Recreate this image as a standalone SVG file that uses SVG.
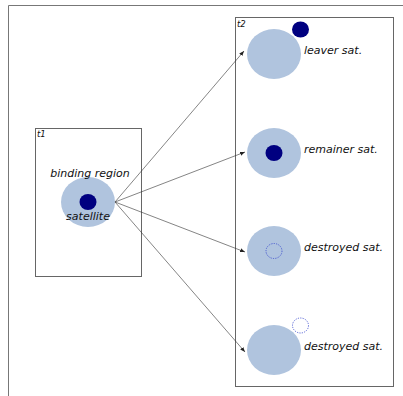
<svg xmlns="http://www.w3.org/2000/svg" width="403" height="396" viewBox="0 0 403 396">
<style>
.frame{fill:none;stroke:#777;stroke-width:1}
.box{fill:none;stroke:#666;stroke-width:1}
.big{fill:#b0c4de}
.dot{fill:#000080}
.gone{fill:none;stroke:#3344cc;stroke-width:0.8;stroke-dasharray:1.2 1.2}
.lbl{font-family:"DejaVu Sans",sans-serif;font-style:italic;font-size:11px;fill:#111}
.tag{font-family:"DejaVu Sans",sans-serif;font-style:italic;font-size:8.5px;fill:#111}
.conn{stroke:#333;stroke-width:0.6;fill:none;marker-end:url(#ah)}
</style>
<defs>
<marker id="ah" viewBox="0 0 10 10" refX="10" refY="5" markerWidth="5" markerHeight="5" orient="auto" markerUnits="userSpaceOnUse">
<path d="M0,1 L10,5 L0,9 z" fill="#222"/>
</marker>
</defs>
<rect width="403" height="396" fill="#fff"/>
<path class="frame" d="M8.5,396 V5.5 H403"/>
<g id="t1">
<rect class="box" x="35.5" y="128.5" width="106" height="148"/>
<text class="tag" x="37" y="137">t1</text>
<ellipse class="big" cx="88" cy="202" rx="27" ry="25"/>
<ellipse class="dot" cx="88" cy="202" rx="8.5" ry="8"/>
<text class="lbl" x="90" y="177" text-anchor="middle">binding region</text>
<text class="lbl" x="88" y="220" text-anchor="middle">satellite</text>
</g>
<g id="t2">
<rect class="box" x="235.5" y="17.5" width="158" height="369"/>
<text class="tag" x="237" y="27">t2</text>
</g>
<g id="leaver">
<ellipse class="big" cx="274" cy="54" rx="27" ry="25"/>
<ellipse class="dot" cx="300.5" cy="29.5" rx="8.5" ry="8"/>
<text class="lbl" x="304" y="54">leaver sat.</text>
</g>
<g id="remainer">
<ellipse class="big" cx="274" cy="153" rx="27" ry="25"/>
<ellipse class="dot" cx="274" cy="153" rx="8.5" ry="8"/>
<text class="lbl" x="304" y="153">remainer sat.</text>
</g>
<g id="destroyed1">
<ellipse class="big" cx="274" cy="251" rx="27" ry="25"/>
<ellipse class="gone" cx="274" cy="251" rx="8" ry="7.5"/>
<text class="lbl" x="304" y="251">destroyed sat.</text>
</g>
<g id="destroyed2">
<ellipse class="big" cx="274" cy="350" rx="27" ry="25"/>
<ellipse class="gone" cx="300.5" cy="325.5" rx="8" ry="7.5"/>
<text class="lbl" x="304" y="350">destroyed sat.</text>
</g>
<g id="connectors">
<line class="conn" x1="115" y1="202" x2="244" y2="51"/>
<line class="conn" x1="115" y1="202" x2="245" y2="152"/>
<line class="conn" x1="115" y1="202" x2="245" y2="252"/>
<line class="conn" x1="115" y1="202" x2="245" y2="352"/>
</g>
</svg>
